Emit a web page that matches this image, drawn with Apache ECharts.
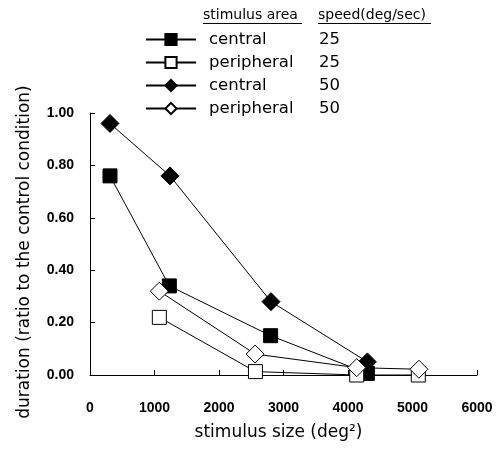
<!DOCTYPE html>
<html>
<head>
<meta charset="utf-8">
<script src="https://cdn.jsdelivr.net/npm/echarts@6/dist/echarts.min.js"></script>
<style>
  html, body { margin: 0; padding: 0; background: #fff; }
  #chart { width: 500px; height: 456px; }
</style>
</head>
<body>
<div id="chart"></div>
<script>
  // series: [stimulus size, duration ratio]
  var central25 = [[310, 0.76], [1230, 0.34], [2800, 0.15], [4300, 0.006]];
  var peripheral25 = [[1075, 0.22], [2565, 0.013], [4135, 0], [5090, 0]];
  var central50 = [[310, 0.96], [1240, 0.76], [2806, 0.28], [4300, 0.05]];
  var peripheral50 = [[1075, 0.32], [2560, 0.08], [4135, 0.028], [5100, 0.022]];

  var seriesNames = ['central|25', 'peripheral|25', 'central|50', 'peripheral|50'];
  var legendHeader = ['stimulus area', 'speed(deg/sec)'];

  var sans = 'DejaVu Sans, sans-serif';
  var arial = 'Liberation Sans, Arial, sans-serif';
  var chart = echarts.init(document.getElementById('chart'));

  function makeSeries(name, data, symbol, filled, size) {
    return {
      name: name,
      type: 'line',
      data: data,
      symbol: symbol,
      symbolSize: size,
      showAllSymbol: true,
      lineStyle: { color: '#000', width: 1 },
      itemStyle: {
        color: filled ? '#000' : '#fff',
        borderColor: '#000',
        borderWidth: 1,
        opacity: 1
      },
      emphasis: { disabled: true },
      animation: false
    };
  }

  var option = {
    animation: false,
    grid: { left: 90, right: 23, top: 113, bottom: 81 },
    legend: {
      orient: 'vertical',
      left: 145,
      top: 31,
      padding: 0,
      itemWidth: 50,
      itemHeight: 14,
      itemGap: 6,
      selectedMode: false,
      formatter: function (name) {
        var parts = name.split('|');
        return '{a|' + parts[0] + '}{b|' + parts[1] + '}';
      },
      textStyle: {
        rich: {
          a: { width: 110, fontSize: 16.5, lineHeight: 16, fontFamily: sans, color: '#000', padding: [0, 0, 0, 8] },
          b: { fontSize: 16.5, lineHeight: 16, fontFamily: sans, color: '#000' }
        }
      },
      data: seriesNames
    },
    graphic: [
      {
        type: 'text', left: 203, top: 8,
        style: { text: legendHeader[0], font: '14px ' + sans, fill: '#000' }
      },
      {
        type: 'text', left: 318, top: 8,
        style: { text: legendHeader[1], font: '14px ' + sans, fill: '#000' }
      },
      { type: 'line', shape: { x1: 203, y1: 23.5, x2: 302, y2: 23.5 }, style: { stroke: '#000', lineWidth: 1 } },
      { type: 'line', shape: { x1: 318, y1: 23.5, x2: 431, y2: 23.5 }, style: { stroke: '#000', lineWidth: 1 } }
    ],
    xAxis: {
      type: 'value',
      min: 0,
      max: 6000,
      interval: 1000,
      name: 'stimulus size (deg²)',
      nameLocation: 'middle',
      nameGap: 49,
      nameTextStyle: { fontSize: 17, fontFamily: sans, color: '#000', padding: [0, 10, 0, 0] },
      axisLine: { show: true, lineStyle: { color: '#000', width: 1 } },
      axisTick: { show: true, inside: true, length: 5, lineStyle: { color: '#000' } },
      axisLabel: {
        fontSize: 14, fontWeight: 'bold', fontFamily: arial, color: '#000', margin: 26,
        formatter: function (v) { return String(v); }
      },
      splitLine: { show: false }
    },
    yAxis: {
      type: 'value',
      min: 0,
      max: 1,
      interval: 0.2,
      name: 'duration (ratio to the control condition)',
      nameLocation: 'middle',
      nameGap: 57,
      nameTextStyle: { fontSize: 17, fontFamily: sans, color: '#000', padding: [0, 16, 0, 0] },
      axisLine: { show: true, lineStyle: { color: '#000', width: 1 } },
      axisTick: { show: true, inside: true, length: 5, lineStyle: { color: '#000' } },
      axisLabel: {
        fontSize: 14, fontWeight: 'bold', fontFamily: arial, color: '#000', margin: 16,
        formatter: function (v) { return v.toFixed(2); }
      },
      splitLine: { show: false }
    },
    series: [
      makeSeries(seriesNames[0], central25, 'rect', true, 14),
      makeSeries(seriesNames[1], peripheral25, 'rect', false, 14),
      makeSeries(seriesNames[2], central50, 'diamond', true, 18),
      makeSeries(seriesNames[3], peripheral50, 'diamond', false, 18)
    ]
  };

  chart.setOption(option);
</script>
</body>
</html>
